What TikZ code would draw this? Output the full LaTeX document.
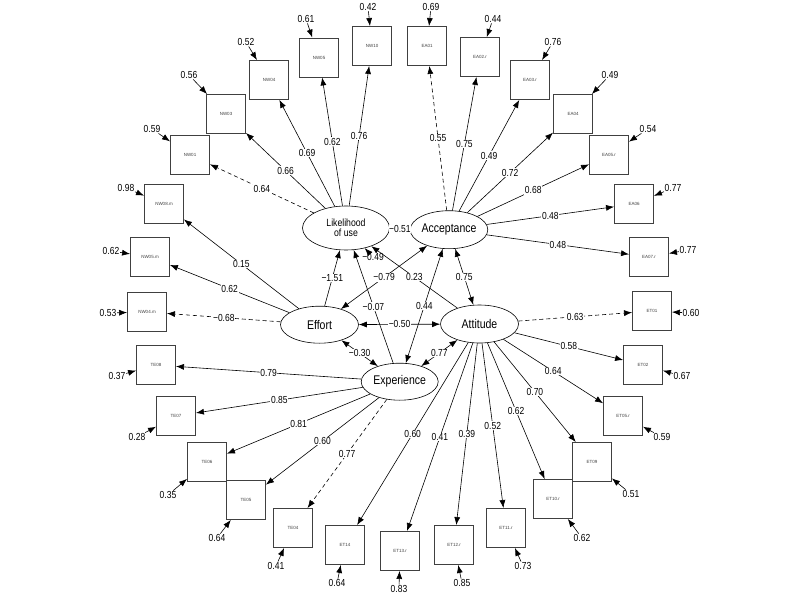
\documentclass[tikz,border=0pt]{standalone}
\usepackage{fontspec}
\setmainfont{Liberation Sans}
\usetikzlibrary{shapes.geometric,arrows.meta}
\newcommand{\vs}[1]{\scalebox{1}[1.2]{#1}}
\begin{document}
\begin{tikzpicture}[x=1pt,y=-1pt,
  obs/.style={draw=black!75,line width=0.9pt,minimum width=39pt,minimum height=39pt,inner sep=0pt,font=\fontsize{4.5}{5}\selectfont,text=black!75},
  lat/.style={ellipse,draw,line width=0.6pt,inner sep=0pt,font=\fontsize{10.5}{12}\selectfont},
  num/.style={font=\fontsize{8.5}{9}\selectfont,inner sep=0.6pt},
  lab/.style={num,fill=white},
  ld/.style={-{Latex[length=8pt,width=6pt]},line width=0.6pt},
  cov/.style={{Latex[length=8pt,width=6pt]}-{Latex[length=8pt,width=6pt]},line width=0.6pt},
  dsh/.style={dash pattern=on 4pt off 3pt}]
\useasboundingbox (0,0) rectangle (800,596);
% latent variables
\node[lat,minimum width=87pt,minimum height=44pt,align=center,font=\fontsize{8.7}{10.5}\selectfont] (L) at (346,228) {\vs{Likelihood}\\\vs{of use}};
\node[lat,minimum width=76pt,minimum height=38pt] (A) at (449,229.7) {\vs{Acceptance}};
\node[lat,minimum width=78pt,minimum height=37pt] (Ef) at (319.5,324.7) {\vs{Effort}};
\node[lat,minimum width=78pt,minimum height=38pt] (At) at (479.5,324) {\vs{Attitude}};
\node[lat,minimum width=77pt,minimum height=37pt] (Ex) at (399.7,381.7) {\vs{Experience}};
% observed variables
\node[obs] (NW10) at (372,46) {NW10};
\node[obs] (NW05) at (319,57.5) {NW05};
\node[obs] (NW04) at (269,80) {NW04};
\node[obs] (NW03) at (226,114) {NW03};
\node[obs] (NW01) at (190,155) {NW01};
\node[obs] (NW08m) at (164,204) {NW08.m};
\node[obs] (NW05m) at (150,257) {NW05.m};
\node[obs] (NW04m) at (147,312) {NW04.m};
\node[obs] (TE08) at (156,365) {TE08};
\node[obs] (TE07) at (176,416) {TE07};
\node[obs] (TE06) at (207,462) {TE06};
\node[obs] (TE05) at (246,500) {TE05};
\node[obs] (TE04) at (293,528) {TE04};
\node[obs] (ET14) at (345,545) {ET14};
\node[obs] (ET13r) at (400,551) {ET13.r};
\node[obs] (ET12r) at (454,545) {ET12.r};
\node[obs] (ET11r) at (506,528) {ET11.r};
\node[obs] (ET10r) at (553,499) {ET10.r};
\node[obs] (ET09) at (592,462) {ET09};
\node[obs] (ET05r) at (623,416) {ET05.r};
\node[obs] (ET02) at (643,365) {ET02};
\node[obs] (ET01) at (652,311) {ET01};
\node[obs] (EA07r) at (649,257) {EA07.r};
\node[obs] (EA06) at (634,204) {EA06};
\node[obs] (EA05r) at (609,155) {EA05.r};
\node[obs] (EA04) at (573,114) {EA04};
\node[obs] (EA03r) at (530,80) {EA03.r};
\node[obs] (EA02r) at (480,57) {EA02.r};
\node[obs] (EA01) at (427,46) {EA01};
% residual labels
\node[num] (eNW10) at (368,7) {\vs{0.42}};
\node[num] (eNW05) at (306,19) {\vs{0.61}};
\node[num] (eNW04) at (246,42) {\vs{0.52}};
\node[num] (eNW03) at (189,75) {\vs{0.56}};
\node[num] (eNW01) at (152,129) {\vs{0.59}};
\node[num] (eNW08m) at (126,188) {\vs{0.98}};
\node[num] (eNW05m) at (111,251) {\vs{0.62}};
\node[num] (eNW04m) at (108,313) {\vs{0.53}};
\node[num] (eTE08) at (117,376) {\vs{0.37}};
\node[num] (eTE07) at (137,437) {\vs{0.28}};
\node[num] (eTE06) at (168,495) {\vs{0.35}};
\node[num] (eTE05) at (217,538) {\vs{0.64}};
\node[num] (eTE04) at (276,566) {\vs{0.41}};
\node[num] (eET14) at (337,583) {\vs{0.64}};
\node[num] (eET13r) at (399,589) {\vs{0.83}};
\node[num] (eET12r) at (462,583) {\vs{0.85}};
\node[num] (eET11r) at (523,566) {\vs{0.73}};
\node[num] (eET10r) at (582,538) {\vs{0.62}};
\node[num] (eET09) at (631,494) {\vs{0.51}};
\node[num] (eET05r) at (662,437) {\vs{0.59}};
\node[num] (eET02) at (682,376) {\vs{0.67}};
\node[num] (eET01) at (691,313) {\vs{0.60}};
\node[num] (eEA07r) at (688,250) {\vs{0.77}};
\node[num] (eEA06) at (673,188) {\vs{0.77}};
\node[num] (eEA05r) at (648,129) {\vs{0.54}};
\node[num] (eEA04) at (610,75) {\vs{0.49}};
\node[num] (eEA03r) at (553,42) {\vs{0.76}};
\node[num] (eEA02r) at (493,19) {\vs{0.44}};
\node[num] (eEA01) at (431,7) {\vs{0.69}};
\node[num] (eL) at (373,257) {\vs{−0.49}};
\foreach \v in {NW10,NW05,NW04,NW03,NW01,NW08m,NW05m,NW04m,TE08,TE07,TE06,TE05,TE04,ET14,ET13r,ET12r,ET11r,ET10r,ET09,ET05r,ET02,ET01,EA07r,EA06,EA05r,EA04,EA03r,EA02r,EA01,L}
  \draw[ld] (e\v) -- (\v);
% loadings: Likelihood
\draw[ld,dsh] (L) -- node[lab]{\vs{0.64}} (NW01);
\draw[ld] (L) -- node[lab]{\vs{0.66}} (NW03);
\draw[ld] (L) -- node[lab]{\vs{0.69}} (NW04);
\draw[ld] (L) -- node[lab]{\vs{0.62}} (NW05);
\draw[ld] (L) -- node[lab]{\vs{0.76}} (NW10);
% Acceptance
\draw[ld,dsh] (A) -- node[lab]{\vs{0.55}} (EA01);
\draw[ld] (A) -- node[lab]{\vs{0.75}} (EA02r);
\draw[ld] (A) -- node[lab]{\vs{0.49}} (EA03r);
\draw[ld] (A) -- node[lab]{\vs{0.72}} (EA04);
\draw[ld] (A) -- node[lab]{\vs{0.68}} (EA05r);
\draw[ld] (A) -- node[lab]{\vs{0.48}} (EA06);
\draw[ld] (A) -- node[lab]{\vs{0.48}} (EA07r);
% Effort
\draw[ld] (Ef) -- node[lab]{\vs{0.15}} (NW08m);
\draw[ld] (Ef) -- node[lab]{\vs{0.62}} (NW05m);
\draw[ld,dsh] (Ef) -- node[lab]{\vs{−0.68}} (NW04m);
% Experience
\draw[ld] (Ex) -- node[lab]{\vs{0.79}} (TE08);
\draw[ld] (Ex) -- node[lab]{\vs{0.85}} (TE07);
\draw[ld] (Ex) -- node[lab]{\vs{0.81}} (TE06);
\draw[ld] (Ex) -- node[lab]{\vs{0.60}} (TE05);
\draw[ld,dsh] (Ex) -- node[lab]{\vs{0.77}} (TE04);
% Attitude
\draw[ld,dsh] (At) -- node[lab]{\vs{0.63}} (ET01);
\draw[ld] (At) -- node[lab]{\vs{0.58}} (ET02);
\draw[ld] (At) -- node[lab]{\vs{0.64}} (ET05r);
\draw[ld] (At) -- node[lab]{\vs{0.70}} (ET09);
\draw[ld] (At) -- node[lab]{\vs{0.62}} (ET10r);
\draw[ld] (At) -- node[lab]{\vs{0.52}} (ET11r);
\draw[ld] (At) -- node[lab]{\vs{0.39}} (ET12r);
\draw[ld] (At) -- node[lab]{\vs{0.41}} (ET13r);
\draw[ld] (At) -- node[lab]{\vs{0.60}} (ET14);
% structural paths
\draw[line width=0.6pt] (A) -- node[lab]{\vs{−0.51}} (L);
\draw[ld] (Ef) -- node[lab]{\vs{−1.51}} (L);
\draw[ld] (Ex) -- node[lab]{\vs{−0.07}} (L);
\draw[ld] (At) -- node[lab]{\vs{0.23}} (L);
\draw[cov] (A) -- node[lab]{\vs{−0.79}} (Ef);
\draw[cov] (A) -- node[lab]{\vs{0.75}} (At);
\draw[cov] (A) -- node[lab]{\vs{0.44}} (Ex);
\draw[cov] (Ef) -- node[lab]{\vs{−0.50}} (At);
\draw[cov] (Ef) -- node[lab]{\vs{−0.30}} (Ex);
\draw[cov] (At) -- node[lab]{\vs{0.77}} (Ex);
\end{tikzpicture}
\end{document}
